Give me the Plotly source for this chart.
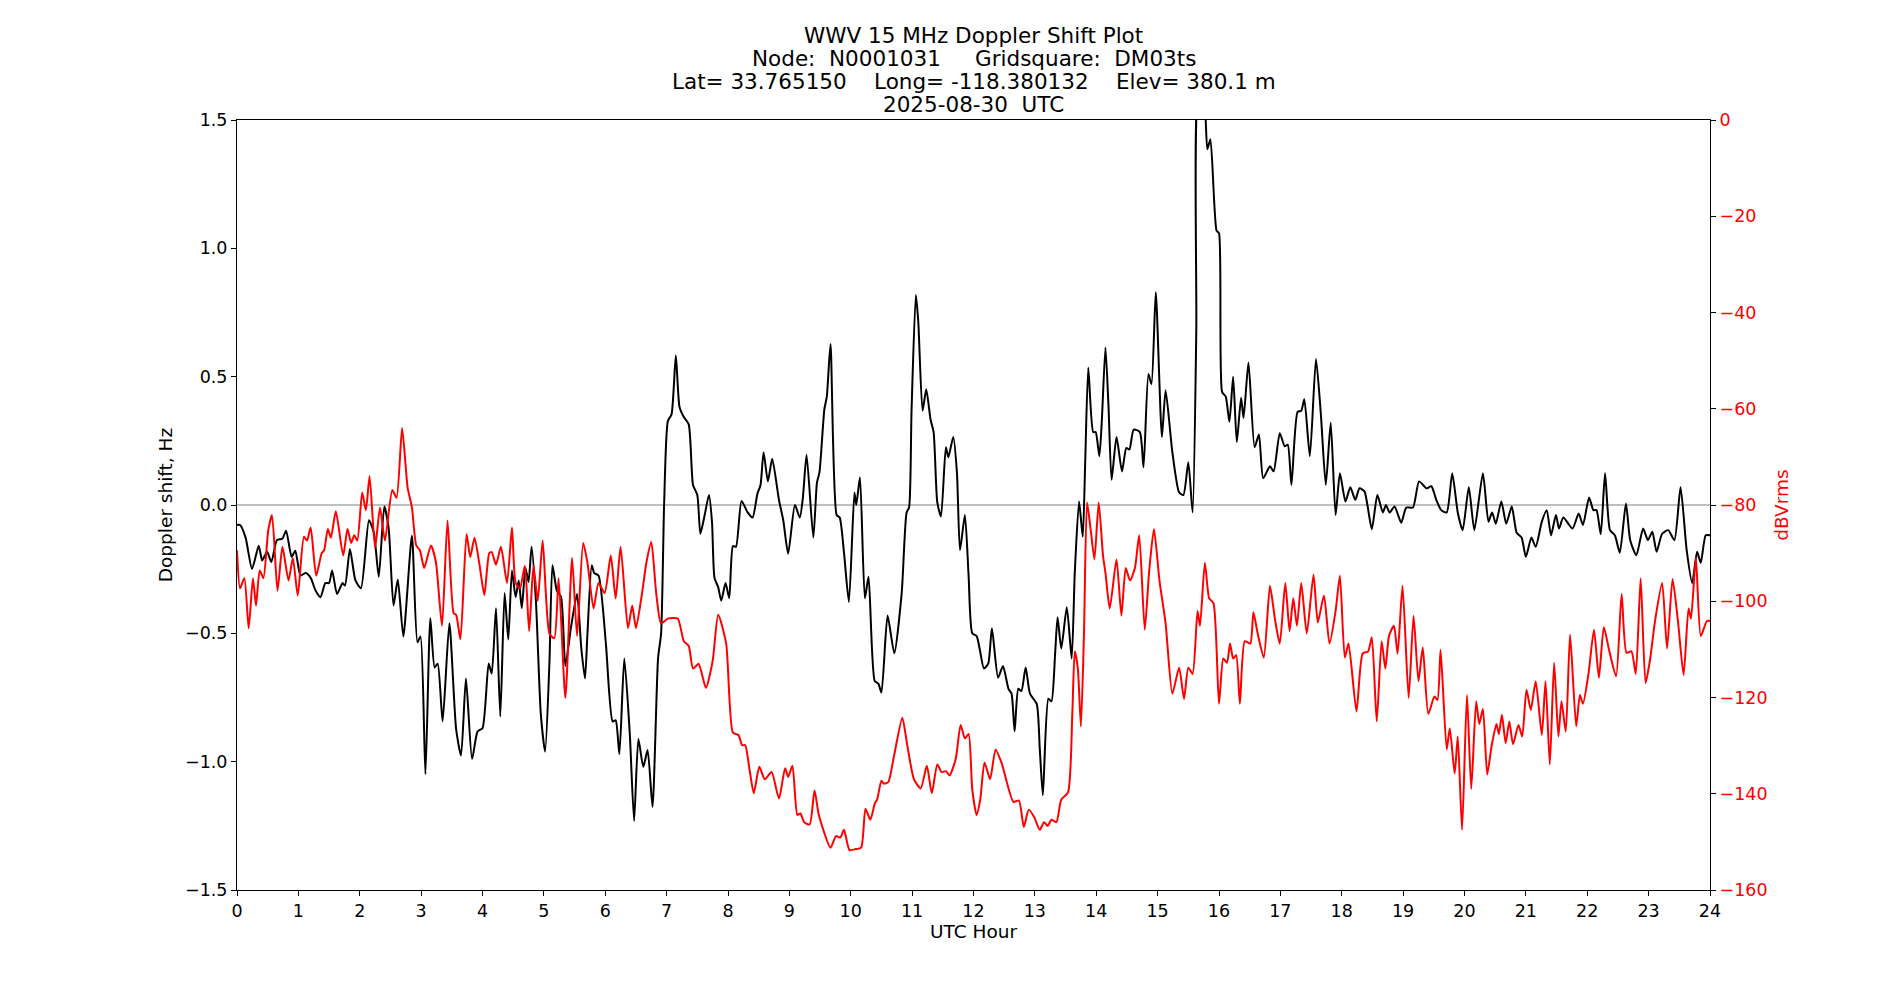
import plotly.graph_objects as go

# ---- data ----
doppler_hours = [0.00,0.05,0.14,0.245,0.354,0.41,0.49,0.56,0.65,0.74,0.80,0.89,0.95,1.035,1.12,1.20,1.28,1.36,1.44,1.50,1.55,1.63,1.72,1.76,1.84,1.93,2.02,2.15,2.23,2.31,2.40,2.47,2.55,2.62,2.71,2.85,2.94,2.99,3.07,3.15,3.22,3.27,3.35,3.46,3.57,3.65,3.73,3.83,3.92,4.00,4.10,4.15,4.22,4.29,4.36,4.42,4.48,4.54,4.59,4.64,4.70,4.75,4.80,4.87,4.95,5.02,5.09,5.14,5.21,5.28,5.35,5.44,5.54,5.61,5.67,5.71,5.78,5.82,5.89,6.01,6.12,6.17,6.23,6.31,6.40,6.47,6.54,6.62,6.69,6.77,6.86,6.91,6.96,7.02,7.08,7.15,7.21,7.28,7.36,7.43,7.50,7.55,7.62,7.69,7.74,7.78,7.84,7.89,7.96,8.02,8.08,8.13,8.22,8.32,8.40,8.48,8.53,8.58,8.65,8.72,8.83,8.90,8.98,9.09,9.17,9.22,9.28,9.39,9.45,9.49,9.57,9.61,9.67,9.77,9.82,9.89,9.97,10.06,10.09,10.15,10.23,10.29,10.39,10.45,10.50,10.60,10.71,10.83,10.91,10.95,10.99,11.06,11.10,11.17,11.23,11.30,11.35,11.41,11.47,11.55,11.59,11.67,11.73,11.78,11.86,11.92,11.98,12.05,12.10,12.17,12.24,12.30,12.40,12.48,12.57,12.62,12.67,12.73,12.78,12.85,12.92,13.03,13.08,13.13,13.22,13.27,13.33,13.37,13.43,13.52,13.60,13.65,13.72,13.78,13.82,13.87,13.95,13.99,14.05,14.09,14.15,14.20,14.25,14.33,14.42,14.49,14.54,14.61,14.71,14.77,14.85,14.90,14.97,15.07,15.13,15.24,15.35,15.42,15.50,15.57,15.63,15.67,15.74,15.81,15.86,15.96,16.00,16.05,16.11,16.17,16.23,16.29,16.36,16.40,16.48,16.58,16.65,16.72,16.83,16.89,16.99,17.07,17.12,17.18,17.28,17.34,17.39,17.48,17.58,17.66,17.74,17.82,17.90,17.97,18.06,18.14,18.22,18.29,18.37,18.49,18.58,18.67,18.72,18.78,18.86,18.97,19.05,19.16,19.26,19.38,19.46,19.54,19.62,19.71,19.80,19.89,19.97,20.07,20.16,20.30,20.39,20.45,20.51,20.60,20.68,20.77,20.85,20.93,21.00,21.09,21.16,21.26,21.34,21.41,21.49,21.54,21.61,21.76,21.86,21.93,22.03,22.10,22.15,22.22,22.29,22.37,22.45,22.53,22.63,22.70,22.80,22.91,22.99,23.06,23.13,23.22,23.32,23.42,23.52,23.62,23.71,23.79,23.85,23.93,24.00]
doppler_hz = [-0.078,-0.078,-0.127,-0.249,-0.159,-0.216,-0.182,-0.222,-0.137,-0.131,-0.100,-0.202,-0.178,-0.275,-0.265,-0.284,-0.333,-0.359,-0.304,-0.304,-0.255,-0.347,-0.304,-0.314,-0.171,-0.294,-0.324,-0.059,-0.108,-0.280,-0.006,-0.088,-0.392,-0.290,-0.512,-0.120,-0.535,-0.512,-1.049,-0.441,-0.633,-0.618,-0.843,-0.461,-0.873,-0.976,-0.676,-0.990,-0.882,-0.870,-0.618,-0.657,-0.402,-0.824,-0.343,-0.524,-0.255,-0.359,-0.294,-0.402,-0.245,-0.300,-0.163,-0.373,-0.814,-0.961,-0.618,-0.235,-0.333,-0.359,-0.627,-0.480,-0.347,-0.559,-0.676,-0.500,-0.235,-0.265,-0.275,-0.539,-0.843,-0.839,-0.971,-0.598,-0.892,-1.231,-0.912,-1.020,-0.955,-1.176,-0.598,-0.500,0.010,0.327,0.353,0.582,0.382,0.343,0.314,0.078,0.039,-0.112,-0.039,0.039,-0.069,-0.284,-0.320,-0.373,-0.304,-0.363,-0.160,-0.163,0.016,-0.029,-0.049,0.045,0.078,0.206,0.092,0.180,0.020,-0.059,-0.190,0.000,-0.049,0.029,0.196,-0.127,0.088,0.127,0.373,0.422,0.627,-0.039,-0.049,-0.186,-0.378,0.049,0.000,0.108,-0.363,-0.280,-0.686,-0.696,-0.731,-0.431,-0.578,-0.343,-0.029,-0.010,0.363,0.818,0.716,0.367,0.451,0.333,0.284,0.010,-0.045,0.225,0.186,0.265,0.127,-0.176,-0.039,-0.275,-0.500,-0.510,-0.560,-0.637,-0.618,-0.480,-0.673,-0.627,-0.716,-0.735,-0.882,-0.716,-0.725,-0.633,-0.735,-0.775,-0.951,-1.131,-0.755,-0.765,-0.578,-0.437,-0.559,-0.398,-0.598,-0.265,0.014,-0.124,0.167,0.535,0.284,0.284,0.190,0.324,0.614,0.382,0.098,0.265,0.131,0.222,0.216,0.294,0.284,0.147,0.510,0.471,0.829,0.265,0.447,0.206,0.049,0.039,0.167,-0.029,0.676,1.62,1.62,1.386,1.425,1.069,1.059,0.441,0.422,0.324,0.500,0.245,0.418,0.339,0.555,0.225,0.275,0.104,0.151,0.131,0.280,0.229,0.235,0.078,0.363,0.367,0.412,0.190,0.569,0.353,0.078,0.320,-0.039,0.124,0.014,0.069,0.020,0.065,0.053,-0.094,0.039,-0.029,0.000,-0.029,-0.006,-0.069,-0.010,-0.010,0.092,0.065,0.073,0.020,-0.020,-0.029,0.124,-0.029,-0.098,0.069,-0.098,0.124,-0.065,-0.029,-0.073,0.014,-0.073,-0.006,-0.108,-0.127,-0.202,-0.127,-0.163,-0.065,-0.020,-0.118,-0.039,-0.092,-0.049,-0.092,-0.033,-0.078,0.029,-0.020,-0.020,-0.114,0.124,-0.098,-0.118,-0.186,0.006,-0.137,-0.196,-0.092,-0.137,-0.104,-0.182,-0.112,-0.098,-0.137,0.069,-0.176,-0.304,-0.182,-0.225,-0.118,-0.118]

power_hours = [0.00,0.05,0.12,0.19,0.26,0.31,0.37,0.43,0.51,0.57,0.66,0.74,0.84,0.91,0.99,1.09,1.14,1.20,1.29,1.38,1.42,1.48,1.53,1.61,1.73,1.80,1.86,1.91,1.96,2.04,2.10,2.16,2.25,2.33,2.41,2.53,2.60,2.69,2.78,2.85,2.92,2.98,3.05,3.16,3.24,3.34,3.43,3.53,3.57,3.64,3.74,3.80,3.87,3.95,4.03,4.11,4.15,4.22,4.30,4.40,4.48,4.54,4.61,4.69,4.76,4.83,4.90,4.98,5.09,5.17,5.24,5.35,5.46,5.54,5.64,5.71,5.81,5.89,5.99,6.09,6.17,6.25,6.37,6.44,6.50,6.60,6.67,6.75,6.83,6.91,7.02,7.18,7.28,7.36,7.43,7.52,7.64,7.75,7.84,7.97,8.08,8.17,8.23,8.28,8.35,8.42,8.51,8.60,8.71,8.83,8.93,8.98,9.05,9.13,9.18,9.24,9.33,9.41,9.48,9.67,9.76,9.83,9.89,9.98,10.08,10.17,10.24,10.32,10.39,10.43,10.50,10.54,10.61,10.71,10.84,10.92,11.03,11.14,11.24,11.32,11.41,11.48,11.55,11.61,11.71,11.79,11.86,11.92,11.98,12.05,12.11,12.18,12.27,12.36,12.46,12.65,12.74,12.82,12.90,12.99,13.08,13.15,13.21,13.27,13.35,13.43,13.54,13.61,13.65,13.70,13.75,13.80,13.85,13.91,13.97,14.04,14.11,14.15,14.22,14.33,14.41,14.48,14.55,14.63,14.70,14.79,14.86,14.94,15.03,15.13,15.24,15.35,15.43,15.50,15.57,15.65,15.69,15.77,15.84,15.91,16.00,16.07,16.13,16.18,16.23,16.28,16.34,16.42,16.51,16.56,16.63,16.73,16.83,16.91,16.99,17.08,17.15,17.21,17.27,17.34,17.43,17.54,17.61,17.71,17.80,17.90,17.97,18.05,18.11,18.24,18.34,18.43,18.49,18.57,18.65,18.71,18.77,18.85,18.91,18.99,19.09,19.17,19.25,19.32,19.41,19.51,19.56,19.61,19.71,19.76,19.84,19.89,19.96,20.04,20.11,20.19,20.24,20.30,20.37,20.44,20.52,20.56,20.61,20.67,20.73,20.79,20.88,20.94,21.01,21.08,21.16,21.26,21.32,21.39,21.46,21.53,21.58,21.65,21.72,21.82,21.88,21.93,22.02,22.11,22.19,22.27,22.36,22.47,22.56,22.64,22.72,22.79,22.87,22.95,23.02,23.11,23.22,23.30,23.39,23.48,23.57,23.65,23.69,23.77,23.85,23.95,24.00]
power_dbvrms = [-89.4,-97.3,-95.2,-105.6,-95.2,-100.9,-93.6,-95.2,-85.2,-82.1,-97.8,-88.7,-95.7,-91.0,-98.8,-86.6,-87.4,-84.7,-94.7,-90.0,-89.4,-85.0,-86.8,-81.3,-90.5,-85.0,-87.9,-86.3,-87.4,-77.4,-81.1,-74.0,-88.9,-80.5,-87.4,-76.9,-78.5,-64.0,-76.4,-80.5,-88.4,-89.4,-93.1,-88.4,-91.8,-105.1,-83.2,-102.5,-102.8,-107.9,-86.0,-90.8,-86.8,-92.3,-98.7,-90.0,-89.8,-92.4,-88.7,-96.2,-84.7,-96.2,-97.3,-92.6,-106.2,-92.6,-99.9,-87.4,-106.7,-107.7,-95.2,-120.1,-91.0,-107.2,-87.9,-92.0,-101.5,-96.2,-98.3,-90.5,-99.4,-88.7,-105.6,-100.9,-105.6,-98.3,-92.0,-87.7,-98.3,-104.6,-103.6,-103.6,-108.3,-109.3,-114.0,-113.0,-118.0,-112.4,-102.8,-108.8,-127.3,-127.8,-129.9,-129.9,-134.9,-139.9,-134.4,-137.0,-135.5,-141.0,-134.7,-136.5,-134.2,-144.4,-144.1,-145.9,-146.4,-139.3,-144.4,-151.2,-148.8,-149.1,-147.5,-151.7,-151.5,-151.2,-143.1,-145.4,-142.1,-141.2,-137.3,-137.9,-137.6,-131.8,-124.2,-129.9,-137.0,-138.9,-134.2,-139.9,-133.9,-135.5,-135.3,-136.2,-132.8,-125.7,-128.5,-127.6,-139.1,-144.4,-141.2,-133.5,-137.0,-130.8,-133.7,-141.7,-141.4,-146.9,-143.3,-144.9,-147.5,-145.9,-146.7,-145.4,-145.9,-141.2,-139.7,-123.4,-110.4,-114.0,-126.0,-106.7,-79.5,-85.2,-91.3,-79.5,-90.5,-94.1,-101.5,-91.3,-103.0,-93.1,-95.7,-93.1,-86.3,-105.9,-94.1,-85.0,-95.7,-104.6,-119.2,-113.8,-120.3,-113.8,-115.1,-102.0,-105.1,-92.0,-99.4,-100.4,-121.3,-111.9,-112.8,-108.8,-111.9,-111.2,-121.3,-108.3,-108.8,-102.3,-106.7,-111.7,-96.8,-103.6,-108.8,-96.2,-106.2,-99.4,-105.1,-96.2,-106.7,-94.5,-104.4,-98.8,-108.8,-102.0,-94.7,-111.7,-108.8,-122.9,-110.9,-110.4,-107.5,-125.0,-108.3,-114.0,-107.2,-105.1,-110.9,-96.8,-120.1,-103.0,-116.6,-109.6,-123.4,-119.8,-120.5,-110.1,-130.8,-126.4,-135.8,-128.1,-147.5,-119.5,-139.0,-120.8,-125.5,-122.4,-136.0,-130.2,-125.5,-127.6,-123.6,-129.5,-125.0,-129.7,-125.7,-128.1,-118.4,-122.6,-116.6,-127.8,-116.6,-133.9,-112.8,-128.1,-120.8,-127.1,-106.9,-126.0,-119.5,-121.3,-115.1,-105.9,-115.9,-105.4,-110.4,-115.6,-98.5,-110.7,-110.4,-115.1,-95.2,-117.0,-112.4,-103.6,-96.2,-109.8,-95.4,-104.4,-115.3,-101.5,-103.6,-91.0,-107.2,-104.1,-104.1]

x_ticks = list(range(0, 25))
title_lines = ["WWV 15 MHz Doppler Shift Plot",
               "Node:  N0001031     Gridsquare:  DM03ts",
               "Lat= 33.765150    Long= -118.380132    Elev= 380.1 m",
               "2025-08-30  UTC"]

FONT = "DejaVu Sans"
TICK_SIZE = 17.5
LABEL_SIZE = 18.5
TITLE_SIZE = 21.5

fig = go.Figure()
fig.add_trace(go.Scatter(x=doppler_hours, y=doppler_hz, mode="lines",
                         line=dict(color="black", width=2, shape="spline", smoothing=0.6),
                         yaxis="y", showlegend=False))
fig.add_trace(go.Scatter(x=power_hours, y=power_dbvrms, mode="lines",
                         line=dict(color="red", width=2, shape="spline", smoothing=0.6),
                         yaxis="y2", showlegend=False))

fig.add_shape(type="line", xref="paper", x0=0, x1=1, yref="y", y0=0, y1=0,
              line=dict(color="gray", width=1), layer="below")

# title lines (one annotation per line, centred over the plot area)
plot_top, plot_h = 120, 770
line_centres_px = [35.5, 58.5, 81.5, 104.5]
for txt, yc in zip(title_lines, line_centres_px):
    fig.add_annotation(text=txt, x=0.5, xref="paper", xanchor="center",
                       y=1 + (plot_top - yc) / plot_h, yref="paper", yanchor="middle",
                       showarrow=False, font=dict(family=FONT, size=TITLE_SIZE, color="black"))

fig.update_layout(
    width=1900, height=1000,
    margin=dict(l=237, r=190, t=120, b=110),
    paper_bgcolor="white", plot_bgcolor="white",
    font=dict(family=FONT, size=TICK_SIZE, color="black"),
    xaxis=dict(range=[0, 24], tickvals=x_ticks, ticks="outside", ticklen=5,
               tickcolor="black", showgrid=False, zeroline=False,
               showline=True, linecolor="black", linewidth=1, mirror=True,
               title=dict(text="UTC Hour", standoff=4, font=dict(size=LABEL_SIZE)),
               tickfont=dict(size=TICK_SIZE)),
    yaxis=dict(range=[-1.5, 1.5], dtick=0.5, tick0=0, tickformat=".1f",
               ticks="outside", ticklen=5, tickcolor="black",
               showgrid=False, zeroline=False, showline=True, linecolor="black",
               linewidth=1, title=dict(text="Doppler shift, Hz", standoff=7, font=dict(size=LABEL_SIZE)),
               tickfont=dict(size=TICK_SIZE)),
    yaxis2=dict(range=[-160, 0], dtick=20, tick0=0, overlaying="y", side="right",
                ticks="outside", ticklen=5, tickcolor="black",
                showgrid=False, zeroline=False, showline=True, linecolor="black",
                linewidth=1, tickfont=dict(size=TICK_SIZE, color="red"),
                title=dict(text="dBVrms", standoff=8, font=dict(size=LABEL_SIZE, color="red"))),
)

fig.write_html("out.html")
